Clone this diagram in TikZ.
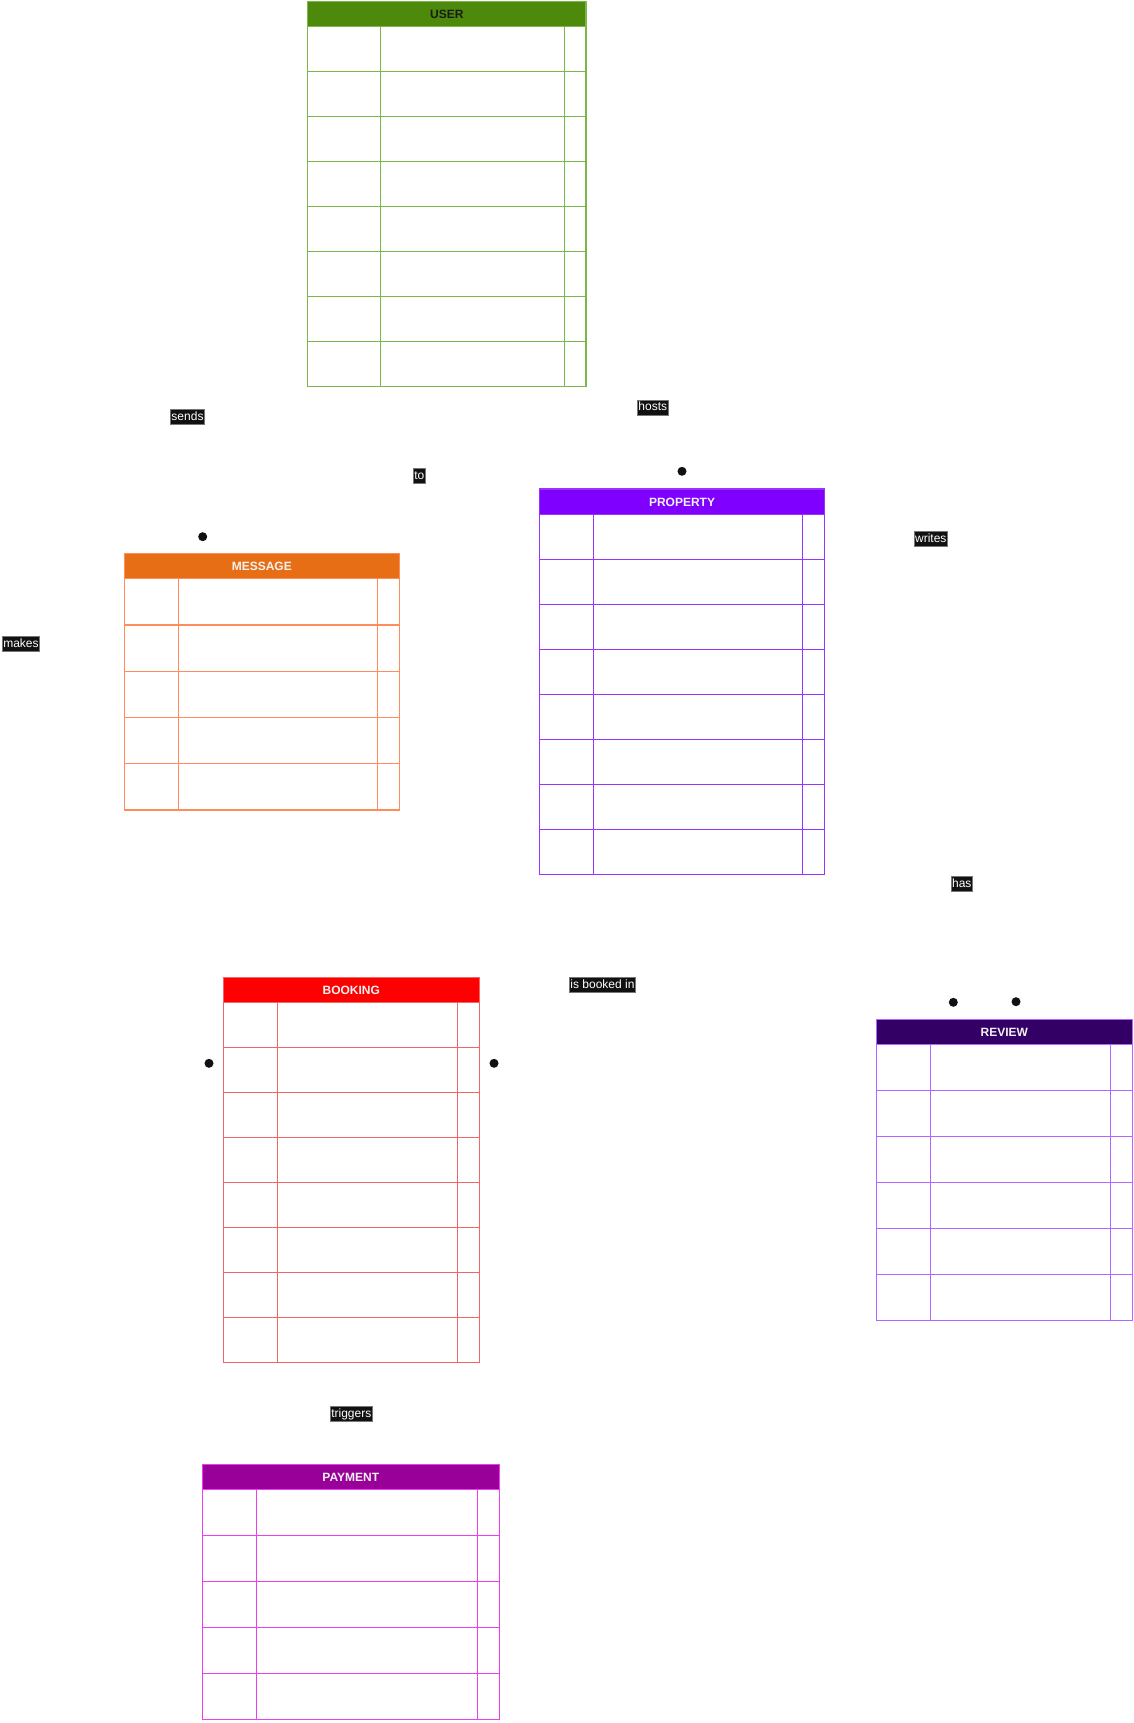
\documentclass[tikz,border=0pt]{standalone}
\usepackage{fontspec}
\setmainfont{Liberation Sans}
\usetikzlibrary{fit}

% entity colours: header fill / grid line / title text
\definecolor{userfill}{HTML}{4D8A0C}
\definecolor{userline}{HTML}{7AB648}
\definecolor{usertext}{HTML}{1A1A1A}
\definecolor{msgfill}{HTML}{E86E16}
\definecolor{msgline}{HTML}{FF8C5A}
\definecolor{propfill}{HTML}{7F00FF}
\definecolor{propline}{HTML}{9933FF}
\definecolor{bookfill}{HTML}{FF0000}
\definecolor{bookline}{HTML}{EE6666}
\definecolor{revfill}{HTML}{330066}
\definecolor{revline}{HTML}{B266FF}
\definecolor{payfill}{HTML}{990099}
\definecolor{payline}{HTML}{F03CF0}
\definecolor{titlelight}{HTML}{F2F2F2}
\definecolor{lblbg}{HTML}{111111}
\definecolor{lblrim}{HTML}{777777}

\begin{document}
\begin{tikzpicture}[x=1pt, y=-1pt,
  rel/.style={fill=lblbg, draw=lblrim, line width=0.8pt, text=white,
    font=\fontsize{12}{14}\selectfont, inner xsep=1pt, inner ysep=1.5pt,
    text height=9pt, text depth=2.6pt},
  enddot/.style={circle, fill=lblbg, inner sep=0pt, minimum size=9pt},
  title/.style={font=\fontsize{12}{14}\selectfont\bfseries, inner sep=0pt}]

\useasboundingbox[fill=white] (0,0) rectangle (1134,1723);

% name / left / top / right / header bottom / row height / rows / col A / col B / title / fill / line / text
\foreach \n/\l/\t/\r/\h/\rh/\k/\ca/\cb/\ttl/\fc/\bc/\tc in {
  user/307.5/1.3/586/26.3/45/8/380.3/564.3/USER/userfill/userline/usertext,
  message/124.3/553.3/399.3/578.7/46.26/5/178.3/377.3/MESSAGE/msgfill/msgline/titlelight,
  property/539.3/489/824.7/514.7/45/8/593.3/802.7/PROPERTY/propfill/propline/titlelight,
  booking/223.3/977.3/479.3/1002.3/45/8/277.3/457.3/BOOKING/bookfill/bookline/titlelight,
  review/876.3/1019.3/1132.3/1044.3/46/6/930.3/1110.7/REVIEW/revfill/revline/titlelight,
  payment/202.3/1464.3/499.3/1489.3/46/5/256.3/477.3/PAYMENT/payfill/payline/titlelight}
{
  \pgfmathsetmacro\b{\h+\k*\rh}
  \pgfmathtruncatemacro\km{\k-1}
  \fill[\fc] (\l,\t) rectangle (\r,\h);
  \begin{scope}[draw=\bc, line width=1.2pt]
    \foreach \i in {1,...,\km}
      \draw (\l,{\h+\i*\rh}) -- (\r,{\h+\i*\rh});
    \draw (\ca,\h) -- (\ca,\b);
    \draw (\cb,\h) -- (\cb,\b);
    \draw (\l,\h) -- (\r,\h);
    \draw (\l,\t) rectangle (\r,\b);
  \end{scope}
  \node[title, text=\tc] (\n-title) at ({(\l+\r)/2},{(\t+\h)/2+0.5}) {\ttl};
  \node[fit={(\l,\t) (\r,\b)}, inner sep=0pt] (\n) {};
}

% relationship labels
\node[rel] (sends)    at (187.5,416.8)  {sends};
\node[rel] (to)       at (419.3,476)    {to};
\node[rel] (hosts)    at (652.8,407.7)  {hosts};
\node[rel] (makes)    at (21,643.8)     {makes};
\node[rel] (writes)   at (930.8,538.8)  {writes};
\node[rel] (has)      at (961.8,884)    {has};
\node[rel] (isbooked) at (602.5,984.8)  {is booked in};
\node[rel] (triggers) at (351.3,1413.8) {triggers};

% relationship end markers
\node[enddot] (msgend)   at (202.7,536.7) {};
\node[enddot] (propend)  at (682,471.3)   {};
\node[enddot] (revendA)  at (953.3,1002.3) {};
\node[enddot] (revendB)  at (1016,1001.7) {};
\node[enddot] (bookendL) at (209,1063.3)  {};
\node[enddot] (bookendR) at (494,1063.3)  {};

\end{tikzpicture}
\end{document}
